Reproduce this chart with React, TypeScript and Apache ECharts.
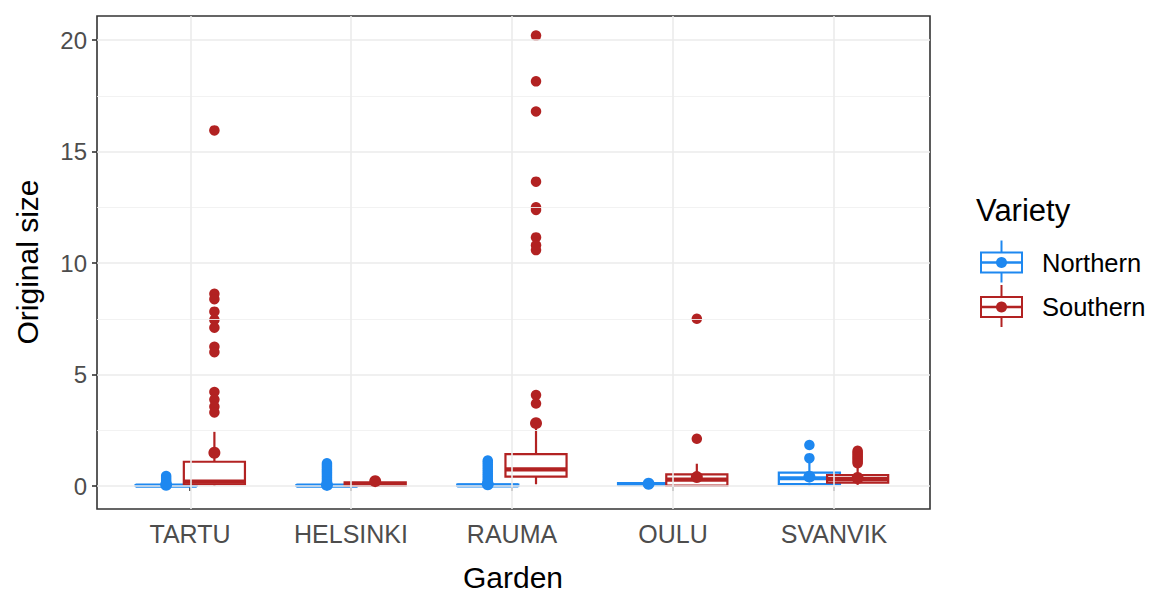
import React, { useEffect, useRef } from "react";
import * as echarts from "echarts";

const gardens = ["TARTU", "HELSINKI", "RAUMA", "OULU", "SVANVIK"];
const varieties = ["Northern", "Southern"];
const colors = ["#1E88F0", "#B22222"];
const yTicks = [0, 5, 10, 15, 20];
const yMinorTicks = [2.5, 7.5, 12.5, 17.5];

// [low whisker, Q1, median, Q3, high whisker] per garden
const northernBox = [
  [0, 0.01, 0.02, 0.04, 0.1],
  [0, 0.01, 0.02, 0.04, 0.1],
  [0, 0.01, 0.03, 0.06, 0.14],
  [0, 0.05, 0.09, 0.13, 0.2],
  [0.02, 0.09, 0.35, 0.6, 1.05],
];
const southernBox = [
  [0, 0.08, 0.2, 1.09, 2.43],
  [0, 0.02, 0.08, 0.16, 0.32],
  [0.08, 0.42, 0.75, 1.43, 2.75],
  [0, 0.02, 0.29, 0.52, 1.0],
  [0.05, 0.15, 0.31, 0.49, 0.95],
];
const northernMean = [0.06, 0.05, 0.08, 0.1, 0.42];
const southernMean = [1.49, 0.22, 2.82, 0.4, 0.36];
const northernOutliers = [
  [0.45, 0.36, 0.27, 0.18],
  [1.02, 0.94, 0.86, 0.78, 0.7, 0.62, 0.54, 0.46, 0.38, 0.3, 0.22, 0.15],
  [1.14, 1.05, 0.95, 0.85, 0.75, 0.65, 0.55, 0.45, 0.35, 0.25, 0.18],
  [],
  [1.84, 1.25],
];
const southernOutliers = [
  [15.95, 8.62, 8.38, 7.82, 7.45, 7.1, 6.25, 6.0, 4.22, 3.88, 3.56, 3.3],
  [],
  [20.2, 18.15, 16.8, 13.65, 12.5, 12.38, 11.15, 10.8, 10.58, 4.08, 3.7],
  [7.5, 2.12],
  [1.58, 1.5, 1.42, 1.34, 1.26, 1.18, 1.1, 1.02],
];

const DODGE = 0.15;
const BOX_W = 0.38;
const FONT = "'Liberation Sans', Arial, sans-serif";

export default function App() {
  const ref = useRef<HTMLDivElement>(null);

  useEffect(() => {
    document.body.style.margin = "0";
    if (!ref.current) return;
    const chart = echarts.init(ref.current, undefined, { renderer: "svg" });

    const boxSeries = (boxes: number[][], idx: number) => ({
      type: "custom",
      name: varieties[idx],
      xAxisIndex: 0,
      yAxisIndex: 0,
      z: 2 + idx,
      clip: true,
      encode: { x: 0, y: [1, 2, 3, 4, 5] },
      data: boxes.map((b, i) => [i + 1 + (idx === 0 ? -DODGE : DODGE), ...b]),
      renderItem: (params: any, api: any) => {
        const x = api.value(0);
        const pLow = api.coord([x, api.value(1)]);
        const pQ1 = api.coord([x, api.value(2)]);
        const pMed = api.coord([x, api.value(3)]);
        const pQ3 = api.coord([x, api.value(4)]);
        const pHigh = api.coord([x, api.value(5)]);
        const hw = api.size([BOX_W, 0])[0] / 2;
        const cx = pMed[0];
        const c = colors[idx];
        return {
          type: "group",
          children: [
            { type: "line", shape: { x1: cx, y1: pHigh[1], x2: cx, y2: pQ3[1] }, style: { stroke: c, lineWidth: 2.2 } },
            { type: "line", shape: { x1: cx, y1: pQ1[1], x2: cx, y2: pLow[1] }, style: { stroke: c, lineWidth: 2.2 } },
            {
              type: "rect",
              shape: { x: cx - hw, y: pQ3[1], width: 2 * hw, height: Math.max(pQ1[1] - pQ3[1], 0.5) },
              style: { fill: "#ffffff", stroke: c, lineWidth: 2.2 },
            },
            { type: "line", shape: { x1: cx - hw, y1: pMed[1], x2: cx + hw, y2: pMed[1] }, style: { stroke: c, lineWidth: 4.2 } },
          ],
        };
      },
    });

    const outlierSeries = (outs: number[][], idx: number) => ({
      type: "scatter",
      name: varieties[idx] + " outliers",
      xAxisIndex: 0,
      yAxisIndex: 0,
      z: 4,
      symbol: "circle",
      symbolSize: 10.5,
      itemStyle: { color: colors[idx], opacity: 1 },
      data: outs.flatMap((arr, i) => arr.map((v) => [i + 1 + (idx === 0 ? -DODGE : DODGE), v])),
    });

    const meanSeries = (means: number[], idx: number) => ({
      type: "scatter",
      name: varieties[idx] + " mean",
      xAxisIndex: 0,
      yAxisIndex: 0,
      z: 5,
      symbol: "circle",
      symbolSize: 12,
      itemStyle: { color: colors[idx], opacity: 1 },
      data: means.map((v, i) => [i + 1 + (idx === 0 ? -DODGE : DODGE), v]),
    });

    const gridLineSeries = {
      type: "scatter",
      xAxisIndex: 0,
      yAxisIndex: 0,
      z: 1,
      data: [],
      silent: true,
      markLine: {
        silent: true,
        symbol: ["none", "none"],
        label: { show: false },
        emphasis: { disabled: true },
        lineStyle: { color: "#EBEBEB", type: "solid", width: 1.6 },
        data: [
          ...yMinorTicks.map((v) => ({ yAxis: v, lineStyle: { color: "#F0F0F0", type: "solid", width: 0.9 } })),
          ...yTicks.map((v) => ({ yAxis: v })),
          ...gardens.map((_, i) => ({ xAxis: i + 1 })),
        ],
      },
    };

    const legendKey = (idx: number, cy: number) => [
      { type: "line", shape: { x1: 1001.5, y1: cy - 22, x2: 1001.5, y2: cy + 20 }, style: { stroke: colors[idx], lineWidth: 2 } },
      { type: "rect", shape: { x: 981, y: cy - 10, width: 41, height: 20 }, style: { fill: "#fff", stroke: colors[idx], lineWidth: 2 } },
      { type: "line", shape: { x1: 981, y1: cy, x2: 1022, y2: cy }, style: { stroke: colors[idx], lineWidth: 2.6 } },
      { type: "circle", shape: { cx: 1001.5, cy, r: 5.5 }, style: { fill: colors[idx] } },
      {
        type: "text",
        x: 1042,
        y: cy,
        style: { text: varieties[idx], fontSize: 25.5, fontFamily: FONT, fill: "#000", verticalAlign: "middle", align: "left" },
      },
    ];

    chart.setOption({
      animation: false,
      backgroundColor: "#ffffff",
      grid: [
        { left: 97, right: 225, top: 16, bottom: 83, show: true, backgroundColor: "#ffffff", borderColor: "#333333", borderWidth: 1.6 },
        { left: 190, right: 321, top: 40, bottom: 106, show: false },
      ],
      xAxis: [
        { gridIndex: 0, type: "value", min: 0.42, max: 5.6, show: false },
        {
          gridIndex: 1,
          type: "category",
          data: gardens,
          boundaryGap: false,
          offset: 23,
          axisLine: { show: false },
          axisTick: { show: true, length: 5, lineStyle: { color: "#333333", width: 1.6 } },
          axisLabel: { color: "#4D4D4D", fontSize: 25, fontFamily: FONT, margin: 12 },
          splitLine: { show: false },
        },
      ],
      yAxis: [
        { gridIndex: 0, type: "value", min: -1.03, max: 21.08, show: false },
        {
          gridIndex: 1,
          type: "value",
          min: 0,
          max: 20,
          interval: 5,
          offset: 93,
          axisLine: { show: false },
          axisTick: { show: true, length: 5, lineStyle: { color: "#333333", width: 1.6 } },
          axisLabel: { color: "#4D4D4D", fontSize: 24, fontFamily: FONT, margin: 10 },
          splitLine: { show: false },
        },
      ],
      series: [
        gridLineSeries,
        boxSeries(northernBox, 0),
        outlierSeries(northernOutliers, 0),
        boxSeries(southernBox, 1),
        outlierSeries(southernOutliers, 1),
        meanSeries(northernMean, 0),
        meanSeries(southernMean, 1),
      ],
      graphic: [
        {
          type: "text",
          x: 27,
          y: 262,
          rotation: Math.PI / 2,
          style: { text: "Original size", fontSize: 30, fontFamily: FONT, fill: "#000", align: "center", verticalAlign: "middle" },
        },
        {
          type: "text",
          x: 513,
          y: 577,
          style: { text: "Garden", fontSize: 30, fontFamily: FONT, fill: "#000", align: "center", verticalAlign: "middle" },
        },
        {
          type: "text",
          x: 976,
          y: 210,
          style: { text: "Variety", fontSize: 31, fontFamily: FONT, fill: "#000", align: "left", verticalAlign: "middle" },
        },
        ...legendKey(0, 262.5),
        ...legendKey(1, 307),
      ],
    });

    return () => chart.dispose();
  }, []);

  return <div ref={ref} style={{ position: "fixed", left: 0, top: 0, width: 1155, height: 592 }} />;
}
